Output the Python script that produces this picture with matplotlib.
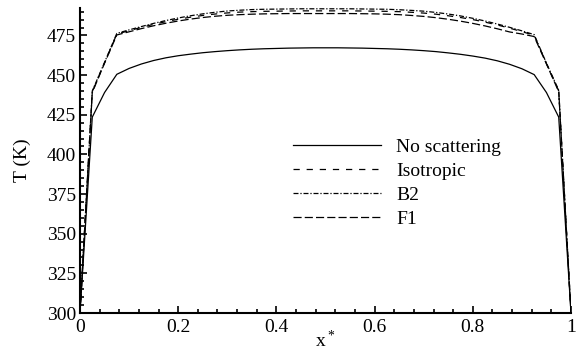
import matplotlib
matplotlib.use("Agg")
import matplotlib.pyplot as plt

plt.rcParams['font.family'] = ['Liberation Serif', 'DejaVu Serif']
plt.rcParams['mathtext.fontset'] = 'custom'
plt.rcParams['mathtext.rm'] = 'Liberation Serif'
plt.rcParams['mathtext.default'] = 'regular'

# positions x* (0 .. 1)
x = [0.0, 0.025, 0.05, 0.075, 0.1, 0.125, 0.15, 0.175, 0.2, 0.225,
     0.25, 0.275, 0.3, 0.325, 0.35, 0.375, 0.4, 0.425, 0.45, 0.475,
     0.5, 0.525, 0.55, 0.575, 0.6, 0.625, 0.65, 0.675, 0.7, 0.725,
     0.75, 0.775, 0.8, 0.825, 0.85, 0.875, 0.9, 0.925, 0.95, 0.975, 1.0]

# temperatures (K)
t_none = [300, 423.5, 439.0, 450.5, 454.2, 457.0, 459.2, 460.9, 462.2, 463.2,
          464.1, 464.8, 465.4, 465.9, 466.3, 466.6, 466.8, 467.0, 467.1, 467.2,
          467.2, 467.2, 467.1, 467.0, 466.8, 466.6, 466.3, 465.9, 465.4, 464.8,
          464.0, 463.1, 462.0, 460.7, 459.0, 456.8, 454.0, 450.3, 439.0, 423.5, 300]
t_iso = [300, 439.5, 457.8, 475.9, 478.0, 480.1, 482.0, 483.7, 485.2, 486.5,
         487.6, 488.5, 489.2, 489.7, 490.0, 490.2, 490.3, 490.4, 490.5, 490.5,
         490.5, 490.5, 490.5, 490.4, 490.3, 490.2, 490.0, 489.6, 489.1, 488.4,
         487.4, 486.3, 485.0, 483.4, 481.6, 479.6, 477.4, 475.1, 457.3, 440.0, 300]
t_b2 = [300, 440.0, 458.0, 476.3, 478.5, 480.6, 482.6, 484.4, 486.0, 487.4,
        488.6, 489.6, 490.4, 490.9, 491.3, 491.5, 491.6, 491.7, 491.8, 491.8,
        491.8, 491.8, 491.8, 491.7, 491.6, 491.5, 491.2, 490.8, 490.3, 489.5,
        488.5, 487.3, 485.8, 484.1, 482.2, 480.1, 477.9, 475.5, 457.5, 440.5, 300]
t_f1 = [300, 439.0, 457.5, 475.3, 477.3, 479.3, 481.1, 482.7, 484.1, 485.3,
        486.3, 487.1, 487.7, 488.1, 488.4, 488.6, 488.7, 488.8, 488.8, 488.8,
        488.8, 488.8, 488.8, 488.7, 488.6, 488.4, 488.1, 487.6, 487.0, 486.2,
        485.2, 484.0, 482.6, 481.0, 479.2, 477.2, 475.9, 474.3, 457.0, 439.5, 300]

labels = ["No scattering", "Isotropic", "B2", "F1"]

fig = plt.figure(figsize=(5.81, 3.56), dpi=100)
ax = fig.add_axes([80/581, 1 - 313/356, 491/581, 305/356])

lw = 0.9
ax.plot(x, t_none, color='black', lw=lw, label=labels[0])
ax.plot(x, t_iso, color='black', lw=lw, dashes=(5, 5.5), label=labels[1])
ax.plot(x, t_b2, color='black', lw=lw, dashes=(4, 1.5, 1, 1.5), label=labels[2])
ax.plot(x, t_f1, color='black', lw=lw, dashes=(6.5, 2.5), label=labels[3])

ax.set_xlim(0, 1)
ax.set_ylim(300, 492.3)
ax.set_xticks([0, 0.2, 0.4, 0.6, 0.8, 1])
ax.set_xticklabels(['0', '0.2', '0.4', '0.6', '0.8', '1'])
ax.set_yticks([300, 325, 350, 375, 400, 425, 450, 475])
ax.set_xticks([i * 0.04 for i in range(26)], minor=True)
ax.set_yticks([300 + 5 * i for i in range(39)], minor=True)

for s in ['top', 'right']:
    ax.spines[s].set_visible(False)
for s in ['left', 'bottom']:
    ax.spines[s].set_linewidth(1.5)

ax.tick_params(which='both', direction='in', labelsize=14, width=1.2)
ax.tick_params(axis='x', pad=4)
ax.tick_params(axis='y', pad=3)
ax.tick_params(which='major', length=5)
ax.tick_params(which='minor', length=3)

ax.set_ylabel('T (K)', fontsize=14, labelpad=11)
ax.set_xlabel('x$^*$', fontsize=14, labelpad=-4)

ax.legend(frameon=False, fontsize=14, loc='upper left',
          bbox_to_anchor=(293/581, 1 - 138/356), bbox_transform=fig.transFigure,
          borderpad=0, borderaxespad=0, handlelength=4.5, handletextpad=0.8,
          labelspacing=0.33)

fig.savefig('out.png', dpi=100)
